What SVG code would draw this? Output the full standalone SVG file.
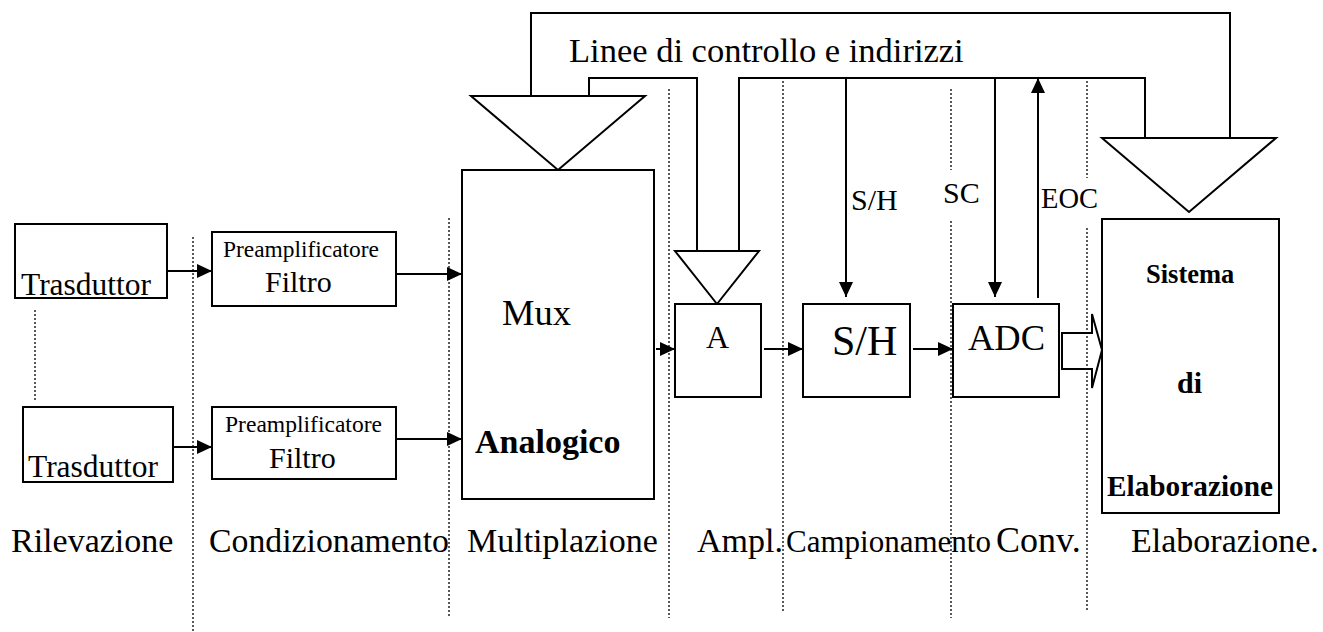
<svg xmlns="http://www.w3.org/2000/svg" width="1323" height="632" viewBox="0 0 1323 632">
<style>
.box{fill:#fff;stroke:#000;stroke-width:2}
.tri{fill:#fff;stroke:#000;stroke-width:2}
.ln{fill:none;stroke:#000;stroke-width:2}
.dot{fill:none;stroke:#000;stroke-width:1.3;stroke-dasharray:2 2}
.t{font-family:"Liberation Serif","Times New Roman",serif;fill:#000}
.b{font-weight:bold}
</style>
<defs>
<marker id="ah" markerUnits="userSpaceOnUse" markerWidth="15" markerHeight="14" refX="15" refY="7" orient="auto">
<path d="M0,0 L15,7 L0,14 z" fill="#000"/>
</marker>
</defs>
<rect width="1323" height="632" fill="#fff"/>
<g id="dividers">
<line class="dot" x1="35" y1="310" x2="35" y2="400"/>
<line class="dot" x1="193" y1="237" x2="193" y2="632"/>
<line class="dot" x1="449" y1="218" x2="449" y2="618"/>
<line class="dot" x1="669" y1="89" x2="669" y2="618"/>
<line class="dot" x1="783" y1="81" x2="783" y2="611"/>
<line class="dot" x1="951" y1="89" x2="951" y2="170"/>
<line class="dot" x1="951" y1="221" x2="951" y2="618"/>
<line class="dot" x1="1087" y1="81" x2="1087" y2="178"/>
<line class="dot" x1="1087" y1="228" x2="1087" y2="611"/>
</g>
<g id="connectors">
<line class="ln" x1="167" y1="271" x2="212" y2="271" marker-end="url(#ah)"/>
<line class="ln" x1="173" y1="447" x2="212" y2="447" marker-end="url(#ah)"/>
<line class="ln" x1="396" y1="274" x2="462" y2="274" marker-end="url(#ah)"/>
<line class="ln" x1="396" y1="439" x2="462" y2="439" marker-end="url(#ah)"/>
<line class="ln" x1="656" y1="349" x2="675" y2="349" marker-end="url(#ah)"/>
<line class="ln" x1="764" y1="349" x2="803" y2="349" marker-end="url(#ah)"/>
<line class="ln" x1="913" y1="349" x2="953" y2="349" marker-end="url(#ah)"/>
<polyline class="ln" points="531,96 531,13 1230,13 1230,138"/>
<polyline class="ln" points="589,96 589,78 697,78 697,251"/>
<polyline class="ln" points="739,251 739,78 1145,78 1145,138"/>
<line class="ln" x1="846" y1="78" x2="846" y2="297" marker-end="url(#ah)"/>
<line class="ln" x1="995" y1="78" x2="995" y2="297" marker-end="url(#ah)"/>
<line class="ln" x1="1038" y1="298" x2="1038" y2="78" marker-end="url(#ah)"/>
<polygon class="ln" points="1062,333 1092,333 1092,314 1102,350 1092,388 1092,369 1062,369"/>
<text class="t" x="569" y="62" font-size="34.5">Linee di controllo e indirizzi</text>
<text class="t" x="851" y="210" font-size="30">S/H</text>
<text class="t" x="943" y="203" font-size="30">SC</text>
<text class="t" x="1041" y="208" font-size="28.5">EOC</text>
</g>
<g id="trasduttore1">
<rect class="box" x="15" y="224" width="152" height="74"/>
<text class="t" x="21" y="295" font-size="31.5">Trasduttor</text>
</g>
<g id="trasduttore2">
<rect class="box" x="23" y="407" width="150" height="75"/>
<text class="t" x="28" y="477" font-size="31.5">Trasduttor</text>
</g>
<g id="preamp1">
<rect class="box" x="212" y="232" width="184" height="74"/>
<text class="t" x="223" y="257" font-size="23" textLength="156" lengthAdjust="spacingAndGlyphs">Preamplificatore</text>
<text class="t" x="265" y="292" font-size="30">Filtro</text>
</g>
<g id="preamp2">
<rect class="box" x="212" y="407" width="184" height="72"/>
<text class="t" x="225" y="432" font-size="23" textLength="157" lengthAdjust="spacingAndGlyphs">Preamplificatore</text>
<text class="t" x="269" y="468" font-size="30">Filtro</text>
</g>
<g id="mux">
<polygon class="tri" points="471,96 645,96 558,170"/>
<rect class="box" x="462" y="170" width="192" height="329"/>
<text class="t" x="502" y="325" font-size="36.5">Mux</text>
<text class="t b" x="475" y="453" font-size="34">Analogico</text>
</g>
<g id="amp">
<polygon class="tri" points="675,251 759,251 717,304"/>
<rect class="box" x="675" y="304" width="86" height="93"/>
<text class="t" x="706" y="348" font-size="32">A</text>
</g>
<g id="sh">
<rect class="box" x="803" y="304" width="107" height="93"/>
<text class="t" x="832" y="355" font-size="42">S/H</text>
</g>
<g id="adc">
<rect class="box" x="953" y="304" width="106" height="93"/>
<text class="t" x="968" y="350" font-size="36.5">ADC</text>
</g>
<g id="sistema">
<polygon class="tri" points="1102,138 1276,138 1189,212"/>
<rect class="box" x="1102" y="219" width="177" height="294"/>
<text class="t b" x="1146" y="283" font-size="26.5">Sistema</text>
<text class="t b" x="1177" y="393" font-size="30">di</text>
<text class="t b" x="1107" y="496" font-size="29" textLength="166" lengthAdjust="spacingAndGlyphs">Elaborazione</text>
</g>
<g id="stages">
<text class="t" x="11" y="552" font-size="34">Rilevazione</text>
<text class="t" x="209" y="552" font-size="34" textLength="240" lengthAdjust="spacingAndGlyphs">Condizionamento</text>
<text class="t" x="467" y="552" font-size="34">Multiplazione</text>
<text class="t" x="697" y="552" font-size="34">Ampl.</text>
<text class="t" x="786" y="552" font-size="31">Campionamento</text>
<text class="t" x="996" y="552" font-size="36">Conv.</text>
<text class="t" x="1131" y="552" font-size="34">Elaborazione.</text>
</g>
</svg>
